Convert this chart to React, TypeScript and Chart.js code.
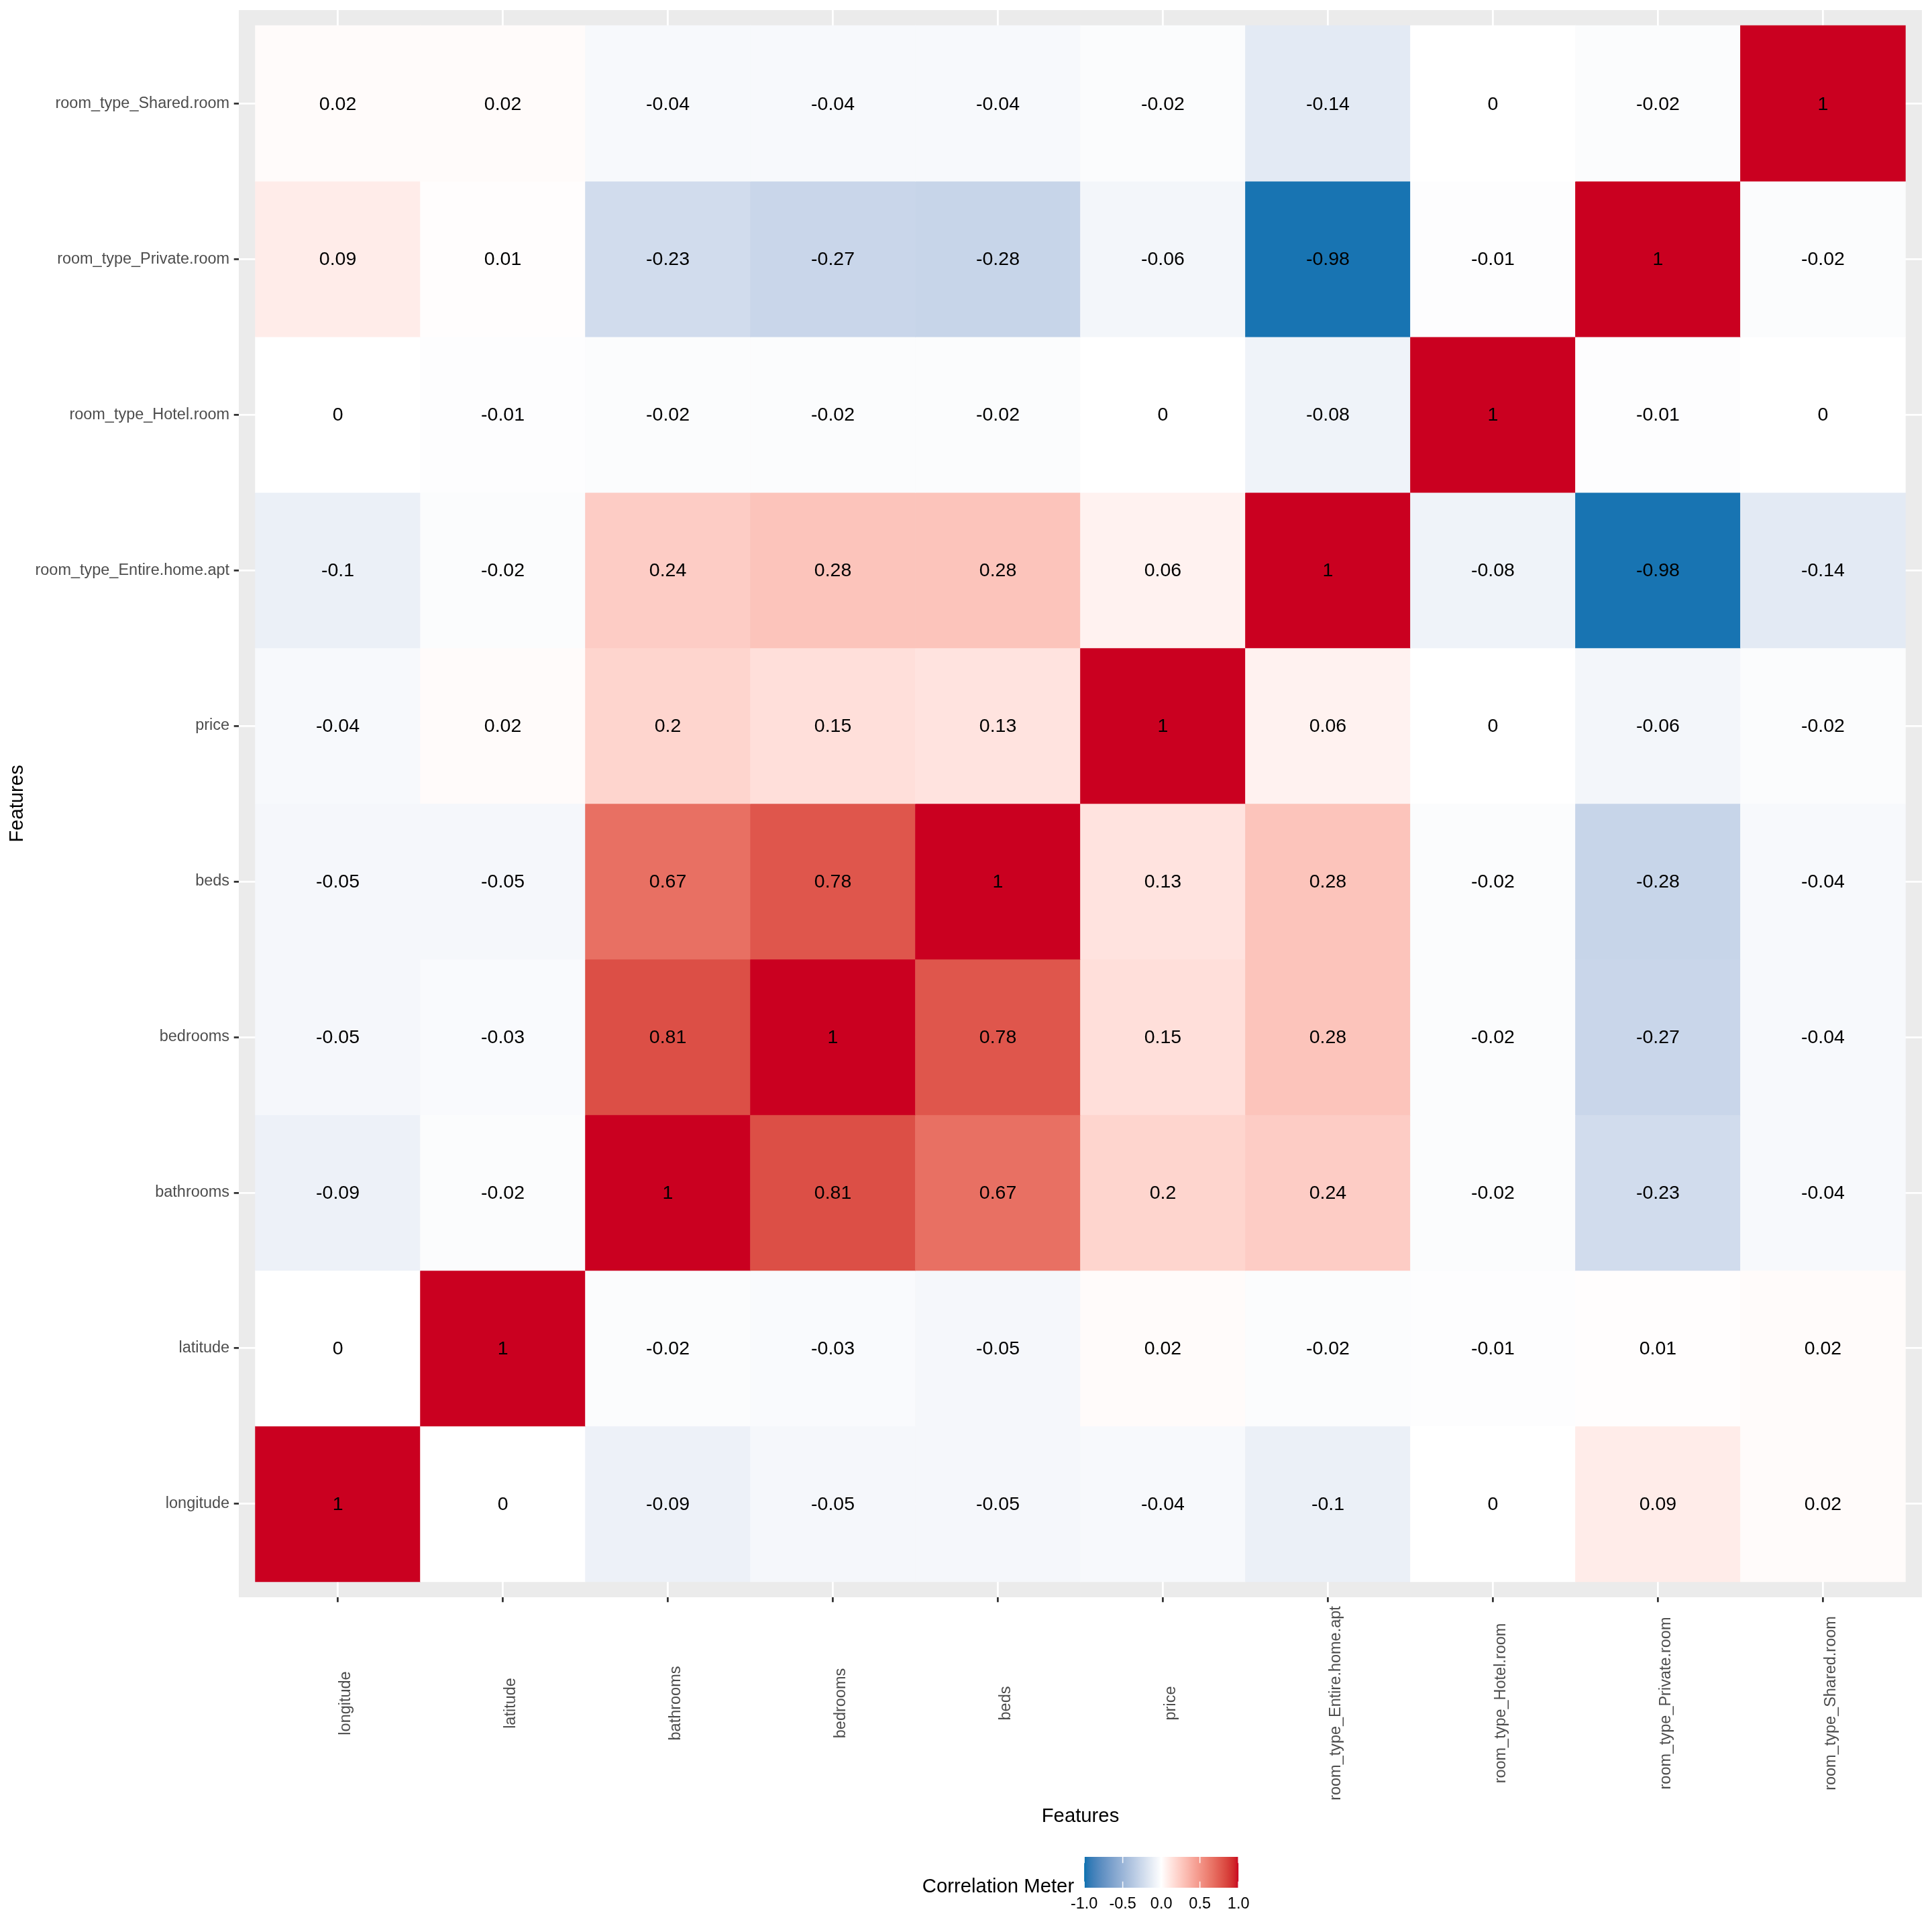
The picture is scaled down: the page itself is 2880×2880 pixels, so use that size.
import React, { useEffect, useRef } from "react";
import { Chart, registerables } from "chart.js";

Chart.register(...registerables);

// Feature names, used for both axes (bottom-to-top on y, left-to-right on x)
const features = [
  "longitude",
  "latitude",
  "bathrooms",
  "bedrooms",
  "beds",
  "price",
  "room_type_Entire.home.apt",
  "room_type_Hotel.room",
  "room_type_Private.room",
  "room_type_Shared.room",
];

// Correlation of each feature with every feature (columns follow `features`)
const longitudeRow = [1, 0, -0.09, -0.05, -0.05, -0.04, -0.1, 0, 0.09, 0.02];
const latitudeRow = [0, 1, -0.02, -0.03, -0.05, 0.02, -0.02, -0.01, 0.01, 0.02];
const bathroomsRow = [-0.09, -0.02, 1, 0.81, 0.67, 0.2, 0.24, -0.02, -0.23, -0.04];
const bedroomsRow = [-0.05, -0.03, 0.81, 1, 0.78, 0.15, 0.28, -0.02, -0.27, -0.04];
const bedsRow = [-0.05, -0.05, 0.67, 0.78, 1, 0.13, 0.28, -0.02, -0.28, -0.04];
const priceRow = [-0.04, 0.02, 0.2, 0.15, 0.13, 1, 0.06, 0, -0.06, -0.02];
const entireHomeRow = [-0.1, -0.02, 0.24, 0.28, 0.28, 0.06, 1, -0.08, -0.98, -0.14];
const hotelRoomRow = [0, -0.01, -0.02, -0.02, -0.02, 0, -0.08, 1, -0.01, 0];
const privateRoomRow = [0.09, 0.01, -0.23, -0.27, -0.28, -0.06, -0.98, -0.01, 1, -0.02];
const sharedRoomRow = [0.02, 0.02, -0.04, -0.04, -0.04, -0.02, -0.14, 0, -0.02, 1];

const matrixRows = [
  longitudeRow,
  latitudeRow,
  bathroomsRow,
  bedroomsRow,
  bedsRow,
  priceRow,
  entireHomeRow,
  hotelRoomRow,
  privateRoomRow,
  sharedRoomRow,
];

const legendTicks = [-1, -0.5, 0, 0.5, 1];
const legendTitle = "Correlation Meter";
const axisTitle = "Features";

const FONT = '"Liberation Sans", Arial, Helvetica, sans-serif';
const TICK_SIZE = 23.47;
const TITLE_SIZE = 29.3;
const CELL_SIZE = 28.5;
const TICK_LEN = 7.3;
const LOW = "#0571B0";
const MID = "#FFFFFF";
const HIGH = "#CA0020";

// ---- colour interpolation in CIE Lab (diverging gradient) ----
type RGB = [number, number, number];
function hexToRgb(h: string): RGB {
  const n = parseInt(h.slice(1), 16);
  return [(n >> 16) & 255, (n >> 8) & 255, n & 255];
}
function toLin(c: number) {
  c /= 255;
  return c <= 0.04045 ? c / 12.92 : Math.pow((c + 0.055) / 1.055, 2.4);
}
function rgbToLab([r, g, b]: RGB): RGB {
  const R = toLin(r), G = toLin(g), B = toLin(b);
  const X = (0.4124564 * R + 0.3575761 * G + 0.1804375 * B) / 0.95047;
  const Y = 0.2126729 * R + 0.7151522 * G + 0.072175 * B;
  const Z = (0.0193339 * R + 0.119192 * G + 0.9503041 * B) / 1.08883;
  const f = (t: number) => (t > 216 / 24389 ? Math.cbrt(t) : ((24389 / 27) * t + 16) / 116);
  const fx = f(X), fy = f(Y), fz = f(Z);
  return [116 * fy - 16, 500 * (fx - fy), 200 * (fy - fz)];
}
function labToRgb([L, a, b]: RGB): RGB {
  const fy = (L + 16) / 116;
  const fx = fy + a / 500;
  const fz = fy - b / 200;
  const inv = (t: number) => (t * t * t > 216 / 24389 ? t * t * t : (116 * t - 16) / (24389 / 27));
  const X = inv(fx) * 0.95047, Y = inv(fy), Z = inv(fz) * 1.08883;
  const R = 3.2404542 * X - 1.5371385 * Y - 0.4985314 * Z;
  const G = -0.969266 * X + 1.8760108 * Y + 0.041556 * Z;
  const B = 0.0556434 * X - 0.2040259 * Y + 1.0572252 * Z;
  const g = (c: number) => {
    c = Math.max(0, Math.min(1, c));
    return 255 * (c <= 0.0031308 ? 12.92 * c : 1.055 * Math.pow(c, 1 / 2.4) - 0.055);
  };
  return [g(R), g(G), g(B)];
}
const labLow = rgbToLab(hexToRgb(LOW));
const labMid = rgbToLab(hexToRgb(MID));
const labHigh = rgbToLab(hexToRgb(HIGH));
function fillFor(v: number): string {
  const t = Math.max(-1, Math.min(1, v));
  const end = t < 0 ? labLow : labHigh;
  const k = Math.abs(t);
  const lab: RGB = [
    labMid[0] + (end[0] - labMid[0]) * k,
    labMid[1] + (end[1] - labMid[1]) * k,
    labMid[2] + (end[2] - labMid[2]) * k,
  ];
  const [r, g, b] = labToRgb(lab);
  return `rgb(${Math.round(r)},${Math.round(g)},${Math.round(b)})`;
}

// One floating bar per cell: x = column position, y spans the row
type Cell = { x: number; y: [number, number]; v: number };
const cells: Cell[] = [];
matrixRows.forEach((row, r) => {
  row.forEach((v, c) => {
    cells.push({ x: c + 1, y: [r + 0.5, r + 1.5], v });
  });
});

const panelBackground = {
  id: "panelBackground",
  beforeDraw(chart: any) {
    const { ctx, chartArea } = chart;
    ctx.save();
    ctx.fillStyle = "#EBEBEB";
    ctx.fillRect(chartArea.left, chartArea.top, chartArea.right - chartArea.left, chartArea.bottom - chartArea.top);
    ctx.restore();
  },
};

const cellLabels = {
  id: "cellLabels",
  afterDatasetsDraw(chart: any) {
    const { ctx } = chart;
    const meta = chart.getDatasetMeta(0);
    ctx.save();
    ctx.font = `${CELL_SIZE}px ${FONT}`;
    ctx.fillStyle = "#000000";
    ctx.textAlign = "center";
    ctx.textBaseline = "middle";
    meta.data.forEach((el: any, i: number) => {
      const { x, y, base } = el.getProps(["x", "y", "base"], true);
      ctx.fillText(String(cells[i].v), x, (y + base) / 2 + 1.5);
    });
    ctx.restore();
  },
};

// Vertical x-axis labels, centred within the label band
const xAxisLabels = {
  id: "xAxisLabels",
  afterDraw(chart: any) {
    const { ctx, chartArea } = chart;
    const sx = chart.scales.x;
    ctx.save();
    ctx.font = `${TICK_SIZE}px ${FONT}`;
    ctx.fillStyle = "#4D4D4D";
    const maxW = Math.max(...features.map((f) => ctx.measureText(f).width));
    const cy = chartArea.bottom + TICK_LEN + 5.9 + maxW / 2;
    sx.ticks.forEach((t: any, i: number) => {
      const x = sx.getPixelForTick(i);
      ctx.save();
      ctx.translate(x + 18.5, cy);
      ctx.rotate(-Math.PI / 2);
      ctx.textAlign = "center";
      ctx.textBaseline = "alphabetic";
      ctx.fillText(features[t.value - 1], 0, 0);
      ctx.restore();
    });
    ctx.restore();
  },
};

// Horizontal colour bar legend under the plot
const colorbarLegend = {
  id: "colorbarLegend",
  afterDraw(chart: any) {
    const { ctx, chartArea } = chart;
    const barW = 230;
    const barH = 46;
    const barTop = 2768;
    ctx.save();
    ctx.font = `${TITLE_SIZE}px ${FONT}`;
    const titleW = ctx.measureText(legendTitle).width;
    const total = titleW + 15 + barW;
    const cx = (chartArea.left + chartArea.right) / 2;
    const startX = cx - total / 2;
    ctx.fillStyle = "#000000";
    ctx.textAlign = "left";
    ctx.textBaseline = "alphabetic";
    ctx.fillText(legendTitle, startX, barTop + 53);

    const bx = startX + titleW + 15;
    const grad = ctx.createLinearGradient(bx, 0, bx + barW, 0);
    const steps = 60;
    for (let i = 0; i <= steps; i++) {
      const v = -1 + (2 * i) / steps;
      grad.addColorStop(i / steps, fillFor(v));
    }
    ctx.fillStyle = grad;
    ctx.fillRect(bx, barTop, barW, barH);

    const pos = (v: number) => bx + ((v + 1) / 2) * barW;
    ctx.strokeStyle = "rgba(255,255,255,0.9)";
    ctx.lineWidth = 1.6;
    legendTicks.forEach((v) => {
      const x = pos(v);
      ctx.beginPath();
      ctx.moveTo(x, barTop);
      ctx.lineTo(x, barTop + barH / 5);
      ctx.moveTo(x, barTop + barH);
      ctx.lineTo(x, barTop + barH - barH / 5);
      ctx.stroke();
    });

    ctx.font = `${TICK_SIZE}px ${FONT}`;
    ctx.fillStyle = "#000000";
    ctx.textAlign = "center";
    legendTicks.forEach((v) => {
      ctx.fillText(v.toFixed(1), pos(v), barTop + barH + 31);
    });
    ctx.restore();
  },
};

export default function App() {
  const canvasRef = useRef<HTMLCanvasElement | null>(null);

  useEffect(() => {
    const canvas = canvasRef.current;
    if (!canvas) return;
    const chart = new Chart(canvas, {
      type: "bar",
      data: {
        datasets: [
          {
            data: cells as any,
            backgroundColor: (c: any) => (c.raw ? fillFor(c.raw.v) : "#fff"),
            borderWidth: 0,
            barPercentage: 1,
            categoryPercentage: 1,
            grouped: false,
          } as any,
        ],
      },
      options: {
        responsive: false,
        devicePixelRatio: 1,
        animation: false,
        events: [],
        layout: { padding: { top: 15, right: 15, left: 0, bottom: 140 } },
        plugins: {
          legend: { display: false },
          tooltip: { enabled: false },
        },
        scales: {
          x: {
            type: "linear",
            min: 0.4,
            max: 10.6,
            offset: false,
            afterBuildTicks: (scale: any) => {
              scale.ticks = features.map((_, i) => ({ value: i + 1 }));
            },
            afterFit: (scale: any) => {
              scale.height = 359;
              scale.paddingLeft = 0;
              scale.paddingRight = 0;
            },
            grid: {
              offset: false,
              color: "#FFFFFF",
              lineWidth: 2.8,
              drawTicks: true,
              tickLength: TICK_LEN,
              tickColor: "#333333",
              tickWidth: 2.8,
            },
            border: { display: false },
            ticks: {
              display: false,
              autoSkip: false,
              callback: (v: any) => features[Number(v) - 1],
            },
            title: {
              display: true,
              text: axisTitle,
              color: "#000000",
              font: { family: FONT, size: TITLE_SIZE },
              padding: { top: 0, bottom: 15 },
            },
          },
          y: {
            type: "linear",
            min: 0.4,
            max: 10.6,
            offset: false,
            beginAtZero: false,
            afterBuildTicks: (scale: any) => {
              scale.ticks = features.map((_, i) => ({ value: i + 1 }));
            },
            afterFit: (scale: any) => {
              scale.width = 356;
              scale.paddingTop = 0;
              scale.paddingBottom = 0;
            },
            grid: {
              offset: false,
              color: "#FFFFFF",
              lineWidth: 2.8,
              drawTicks: true,
              tickLength: TICK_LEN,
              tickColor: "#333333",
              tickWidth: 2.8,
            },
            border: { display: false },
            ticks: {
              autoSkip: false,
              padding: 6.6,
              color: "#4D4D4D",
              font: { family: FONT, size: TICK_SIZE },
              callback: (v: any) => features[Number(v) - 1],
            },
            title: {
              display: true,
              text: axisTitle,
              color: "#000000",
              font: { family: FONT, size: TITLE_SIZE },
              padding: { top: 7.9, bottom: 0 },
            },
          },
        },
      } as any,
      plugins: [panelBackground, cellLabels, xAxisLabels, colorbarLegend],
    });
    return () => chart.destroy();
  }, []);

  return (
    <div style={{ position: "absolute", left: 0, top: 0, width: 2880, height: 2880, background: "#FFFFFF" }}>
      <canvas ref={canvasRef} width={2880} height={2880} style={{ width: 2880, height: 2880, display: "block" }} />
    </div>
  );
}
